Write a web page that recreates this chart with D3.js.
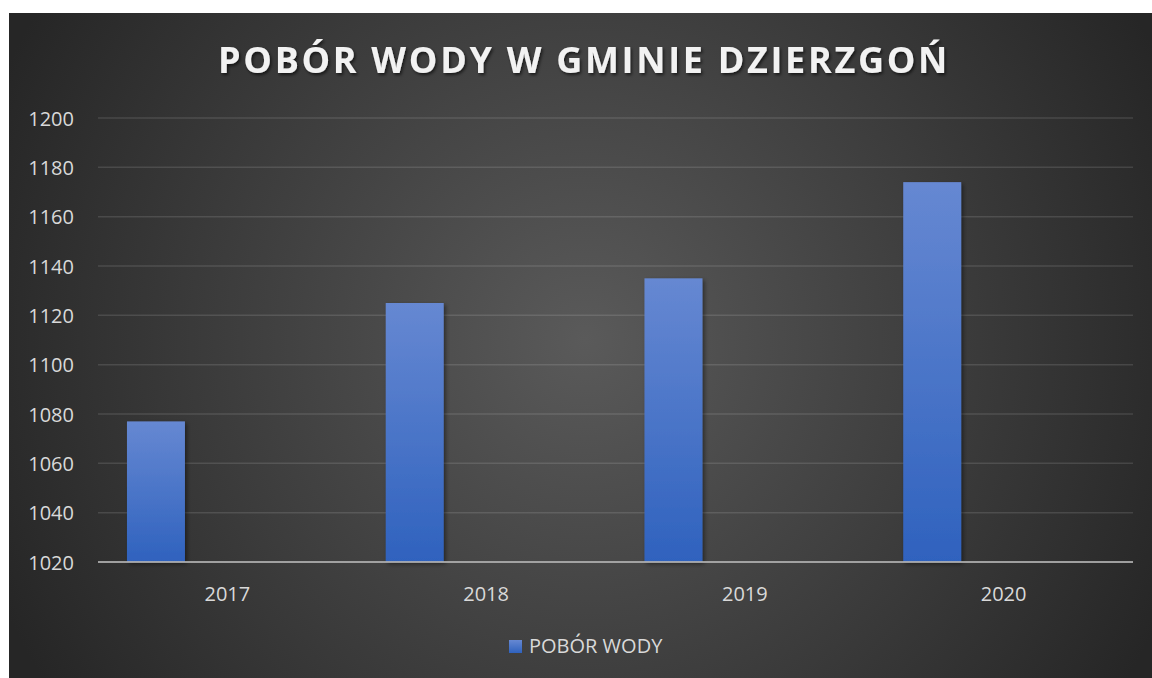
<!DOCTYPE html>
<html><head><meta charset="utf-8">
<script src="https://cdn.jsdelivr.net/npm/d3@7"></script>
<style>html,body{margin:0;padding:0;background:#fff;}svg{display:block;}</style>
</head><body>
<svg id="c" width="1152" height="678"></svg>
<script>
const title = "POBÓR WODY W GMINIE DZIERZGOŃ";
const categories = ["2017", "2018", "2019", "2020"];
const seriesName = "POBÓR WODY";
const values = [1077, 1125, 1135, 1174];
const yTicks = [1020, 1040, 1060, 1080, 1100, 1120, 1140, 1160, 1180, 1200];

const svg = d3.select("#c");
const W = 1152, H = 678;
const frame = {x: 9, y: 13, w: W - 9, h: H - 13};
const plot = {left: 98, right: 1133, top: 118, bottom: 562};
const font = "'Open Sans', 'Noto Sans', sans-serif";

const defs = svg.append("defs");
const bg = defs.append("radialGradient").attr("id", "bg")
  .attr("gradientUnits", "userSpaceOnUse")
  .attr("cx", 585).attr("cy", 340).attr("r", 640);
bg.append("stop").attr("offset", 0).attr("stop-color", "#5a5a5a");
bg.append("stop").attr("offset", 1).attr("stop-color", "#262626");

const barGrad = defs.append("linearGradient").attr("id", "barg")
  .attr("x1", 0).attr("y1", 0).attr("x2", 0).attr("y2", 1);
barGrad.append("stop").attr("offset", 0).attr("stop-color", "#6688d2");
barGrad.append("stop").attr("offset", 1).attr("stop-color", "#2f62be");

const sh = defs.append("filter").attr("id", "sh").attr("x", "-20%").attr("y", "-20%").attr("width", "140%").attr("height", "140%");
sh.append("feDropShadow").attr("dx", 2).attr("dy", 2).attr("stdDeviation", 2)
  .attr("flood-color", "#000").attr("flood-opacity", 0.45);
const tsh = defs.append("filter").attr("id", "tsh").attr("x", "-5%").attr("y", "-30%").attr("width", "110%").attr("height", "160%");
tsh.append("feDropShadow").attr("dx", 1.5).attr("dy", 2).attr("stdDeviation", 1.5)
  .attr("flood-color", "#000").attr("flood-opacity", 0.6);

svg.append("rect").attr("x", frame.x).attr("y", frame.y).attr("width", frame.w).attr("height", frame.h)
  .attr("fill", "url(#bg)");

const x = d3.scaleBand().domain(categories).range([plot.left, plot.right]).padding(0);
const y = d3.scaleLinear().domain([1020, 1200]).range([plot.bottom, plot.top]);

// gridlines
svg.append("g").selectAll("line").data(yTicks.filter(t => t !== 1020)).join("line")
  .attr("x1", plot.left).attr("x2", plot.right)
  .attr("y1", d => y(d)).attr("y2", d => y(d))
  .attr("stroke", "#ffffff").attr("stroke-opacity", 0.12).attr("stroke-width", 1.5);

// y axis labels
const yAxis = d3.axisLeft(y).tickValues(yTicks).tickFormat(d3.format("d")).tickSize(0).tickPadding(0);
const ya = svg.append("g").attr("transform", `translate(74,0)`).call(yAxis);
ya.select(".domain").remove();
ya.selectAll("text").attr("fill", "#d9d9d9").attr("dy", "0.36em").style("font-family", font).style("font-size", "20px");

// bars
const bw = x.bandwidth();
svg.append("g").selectAll("rect").data(values).join("rect")
  .attr("x", (d, i) => x(categories[i]) + bw * 0.112)
  .attr("width", bw * 0.224)
  .attr("y", d => y(d))
  .attr("height", d => y(1020) - y(d))
  .attr("fill", "url(#barg)")
  .attr("filter", "url(#sh)");

// x axis
const xAxis = d3.axisBottom(x).tickSize(0).tickPadding(0);
const xa = svg.append("g").attr("transform", `translate(0,${plot.bottom})`).call(xAxis);
xa.select(".domain").remove();
xa.selectAll("text").attr("fill", "#d9d9d9").attr("y", 39).attr("dy", 0).style("font-family", font).style("font-size", "20px");
svg.append("line").attr("x1", plot.left).attr("x2", plot.right)
  .attr("y1", plot.bottom).attr("y2", plot.bottom)
  .attr("stroke", "#b3b3b3").attr("stroke-opacity", 0.85).attr("stroke-width", 2);

// title
const t = svg.append("text").attr("x", 584).attr("y", 73).attr("text-anchor", "middle")
  .attr("fill", "#f2f2f2").style("font-family", font).style("font-weight", "bold")
  .style("font-size", "36px").style("letter-spacing", "3px")
  .attr("filter", "url(#tsh)").text(title);
const targetW = 732;
const len0 = t.node().getComputedTextLength();
const ls = 3 + (targetW - len0) / title.length;
t.style("letter-spacing", ls + "px");

// legend
const lg = svg.append("g");
lg.append("rect").attr("x", 509).attr("y", 640).attr("width", 13).attr("height", 13).attr("fill", "url(#barg)");
lg.append("text").attr("x", 529).attr("y", 653).attr("fill", "#d9d9d9")
  .style("font-family", font).style("font-size", "20px").text(seriesName);
</script>
</body></html>
